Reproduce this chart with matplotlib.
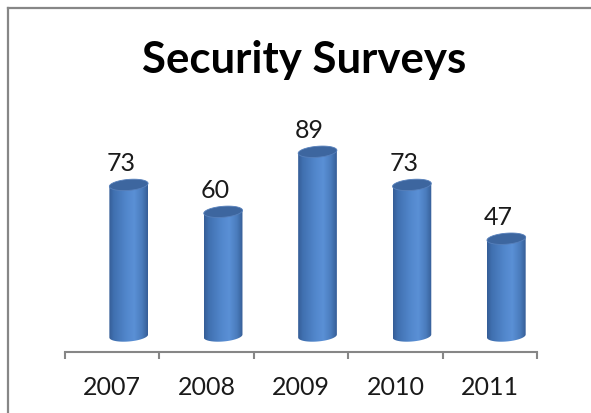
import numpy as np
import matplotlib
matplotlib.use("Agg")
import matplotlib.pyplot as plt
from matplotlib.patches import Polygon
from matplotlib.colors import LinearSegmentedColormap

years = ["2007", "2008", "2009", "2010", "2011"]
values = [73, 60, 89, 73, 47]

plt.rcParams['font.family'] = ['Lato', 'DejaVu Sans']

W, H = 591, 413
fig = plt.figure(figsize=(W / 100, H / 100), dpi=100)

# axes placed in pixel terms
px_per_unit = 2.07
ax_left, ax_right = 65, 537
ax_bottom_px, ax_top_px = 352, 100
ax = fig.add_axes([ax_left / W, (H - ax_bottom_px) / H,
                   (ax_right - ax_left) / W, (ax_bottom_px - ax_top_px) / H])
y0 = -16 / px_per_unit
y1 = y0 + (ax_bottom_px - ax_top_px) / px_per_unit

# cylinder look
shift = 0.175          # 3d depth offset of the bars
a = 0.205              # half width (category units)
b = 5.5 / px_per_unit  # ellipse half height
s = 1.5 / px_per_unit  # tilt of the ellipses
cmap = LinearSegmentedColormap.from_list(
    "cyl", [(0.0, "#355d96"), (0.12, "#4070b0"), (0.45, "#5287cc"),
            (0.65, "#5a90d6"), (0.85, "#4a7cbd"), (1.0, "#365e97")])
grad = np.linspace(0, 1, 200).reshape(1, -1)

t_low = np.linspace(np.pi, 2 * np.pi, 60)
t_all = np.linspace(0, 2 * np.pi, 120)

for i, v in enumerate(values):
    cx = i + 0.5 + shift
    bx = cx + a * np.cos(t_low)
    by = b * np.sin(t_low) + s * np.cos(t_low)
    body = np.vstack([[cx - a, v - s]] + [np.column_stack([bx, by])] + [[cx + a, v + s]])
    patch = Polygon(body, closed=True, facecolor="none", edgecolor="none")
    ax.add_patch(patch)
    im = ax.imshow(grad, cmap=cmap, aspect="auto", zorder=2,
                   extent=[cx - a, cx + a, -b - s - 1, v + b + s + 1])
    im.set_clip_path(patch)

    tx = cx + a * np.cos(t_all)
    ty = v + b * np.sin(t_all) + s * np.cos(t_all)
    ax.add_patch(Polygon(np.column_stack([tx, ty]), closed=True,
                         facecolor="#3d669f", edgecolor="#5780bb",
                         linewidth=0.6, zorder=3))

    ax.annotate(str(v), xy=(i + 0.5 + 0.09, v), xytext=(0, 14),
                textcoords="offset pixels", ha="center", va="baseline",
                fontsize=18, color="#1a1a1a")

ax.set_xlim(0, len(years))
ax.set_ylim(y0, y1)

for side in ["left", "right", "top"]:
    ax.spines[side].set_visible(False)
ax.spines["bottom"].set_color("#868686")
ax.spines["bottom"].set_linewidth(1.5)

ax.set_yticks([])
ax.set_xticks(np.arange(len(years)) + 0.5)
ax.set_xticklabels(years, fontsize=18, color="#1a1a1a")
ax.tick_params(axis="x", which="major", length=0, pad=17)
ax.set_xticks(np.arange(len(years) + 1), minor=True)
ax.tick_params(axis="x", which="minor", length=5, width=1.5, color="#868686")

fig.text(304.5 / W, (H - 73) / H, "Security Surveys", ha="center", va="baseline",
         fontsize=31.5, fontweight="bold", color="black")

# chart border (only top and left show in the crop)
fig.add_artist(plt.Line2D([8 / W, 1], [1 - 8 / H, 1 - 8 / H], color="#878787",
                          linewidth=1.6, transform=fig.transFigure))
fig.add_artist(plt.Line2D([8 / W, 8 / W], [0, 1 - 8 / H], color="#878787",
                          linewidth=1.6, transform=fig.transFigure))

fig.savefig("out.png", dpi=100)
